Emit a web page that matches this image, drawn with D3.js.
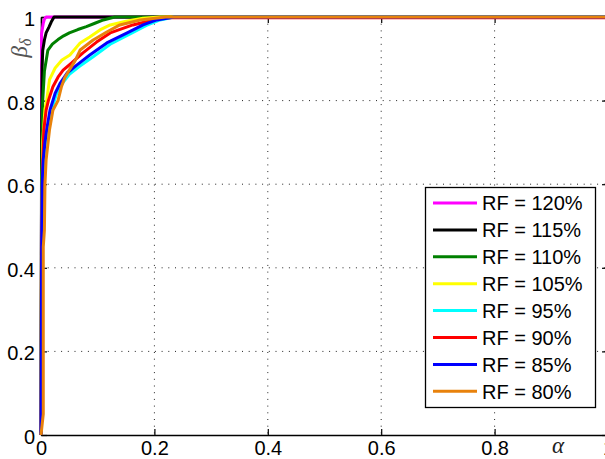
<!DOCTYPE html>
<html>
<head>
<meta charset="utf-8">
<script src="https://cdn.jsdelivr.net/npm/d3@7"></script>
<style>
  body { margin: 0; background: #fff; }
  svg { display: block; }
  .tick text { font-family: "Liberation Sans", Arial, sans-serif; font-size: 20px; fill: #000; }
  .legend text { font-family: "Liberation Sans", Arial, sans-serif; font-size: 20px; fill: #000; }
</style>
</head>
<body>
<div id="chart"></div>
<script>
// ROC curves, (alpha, beta_delta) pairs
const rf120 = [[0,0],[0.001,0.6],[0.001,0.96],[0.004,0.985],[0.006,0.995],[0.009,1],[1,1]];
const rf115 = [[0,0],[0.001,0.7],[0.002,0.88],[0.003,0.92],[0.006,0.945],[0.009,0.962],[0.014,0.976],[0.018,0.988],[0.023,1],[1,1]];
const rf110 = [[0,0],[0.001,0.6],[0.003,0.8],[0.006,0.87],[0.012,0.92],[0.02,0.935],[0.03,0.946],[0.04,0.955],[0.05,0.962],[0.065,0.97],[0.08,0.977],[0.095,0.985],[0.11,0.993],[0.13,1],[1,1]];
const rf105 = [[0,0],[0.001,0.5],[0.003,0.7],[0.007,0.78],[0.01,0.8],[0.015,0.85],[0.025,0.878],[0.037,0.897],[0.051,0.909],[0.069,0.938],[0.086,0.952],[0.104,0.969],[0.122,0.981],[0.15,0.99],[0.18,0.997],[0.21,1],[1,1]];
const rf95 = [[0,0],[0.001,0.4],[0.003,0.6],[0.005,0.66],[0.008,0.7],[0.012,0.73],[0.018,0.775],[0.027,0.815],[0.037,0.84],[0.05,0.863],[0.068,0.882],[0.092,0.905],[0.122,0.935],[0.158,0.96],[0.186,0.98],[0.21,0.993],[0.235,1],[1,1]];
const rf90 = [[0,0],[0.001,0.45],[0.003,0.65],[0.005,0.73],[0.009,0.777],[0.013,0.8],[0.021,0.833],[0.03,0.856],[0.039,0.873],[0.054,0.89],[0.074,0.914],[0.098,0.94],[0.122,0.962],[0.162,0.981],[0.198,0.993],[0.22,0.998],[1,0.998]];
const rf85 = [[0,0],[0.001,0.4],[0.002,0.6],[0.004,0.658],[0.007,0.7],[0.01,0.73],[0.016,0.778],[0.025,0.818],[0.034,0.842],[0.046,0.866],[0.063,0.885],[0.086,0.909],[0.116,0.938],[0.152,0.962],[0.18,0.981],[0.204,0.993],[0.235,1],[1,1]];
const rf80 = [[0,0],[0.004,0.05],[0.004,0.45],[0.006,0.49],[0.007,0.6],[0.009,0.658],[0.015,0.73],[0.021,0.777],[0.03,0.8],[0.036,0.833],[0.042,0.855],[0.05,0.873],[0.06,0.895],[0.069,0.921],[0.092,0.945],[0.116,0.964],[0.139,0.981],[0.175,0.993],[0.22,1],[1,1]];

const labels = ["RF = 120%", "RF = 115%", "RF = 110%", "RF = 105%", "RF = 95%", "RF = 90%", "RF = 85%", "RF = 80%"];
const colors = ["#ff00ff", "#000000", "#008000", "#ffff00", "#00ffff", "#ff0000", "#0000ff", "#e8820c"];
const seriesData = [rf120, rf115, rf110, rf105, rf95, rf90, rf85, rf80];
const ticks = [0, 0.2, 0.4, 0.6, 0.8, 1];

const W = 605, H = 459;
const margin = { top: 17, right: -3, bottom: 24, left: 41 }; // right edge of the axes falls just outside the image
const width = W - margin.left - margin.right;
const height = H - margin.top - margin.bottom;

const svg = d3.select("#chart").append("svg")
    .attr("width", W)
    .attr("height", H);

const g = svg.append("g")
    .attr("transform", `translate(${margin.left},${margin.top})`);

const x = d3.scaleLinear().domain([0, 1]).range([0, width]);
const y = d3.scaleLinear().domain([0, 1]).range([height, 0]);
const fmt = d3.format("~g");

// dotted grid
g.append("g").selectAll("line")
    .data(ticks.slice(1, -1))
    .enter().append("line")
    .attr("x1", d => x(d)).attr("x2", d => x(d))
    .attr("y1", 0).attr("y2", height)
    .attr("stroke", "#222").attr("stroke-width", 1)
    .attr("stroke-dasharray", "1,5.7");
g.append("g").selectAll("line")
    .data(ticks.slice(1, -1))
    .enter().append("line")
    .attr("x1", 0).attr("x2", width)
    .attr("y1", d => y(d)).attr("y2", d => y(d))
    .attr("stroke", "#222").attr("stroke-width", 1)
    .attr("stroke-dasharray", "1,5.7");

// axes, ticks pointing inward
const xAxis = g.append("g")
    .attr("transform", `translate(0,${height})`)
    .call(d3.axisBottom(x).tickValues(ticks).tickFormat(fmt).tickSizeInner(-6).tickSizeOuter(0).tickPadding(6));
const yAxis = g.append("g")
    .call(d3.axisLeft(y).tickValues(ticks).tickFormat(fmt).tickSizeInner(-6).tickSizeOuter(0).tickPadding(6));
g.append("g")
    .call(d3.axisTop(x).tickValues(ticks).tickFormat("").tickSizeInner(-6).tickSizeOuter(0));
g.append("g")
    .attr("transform", `translate(${width},0)`)
    .call(d3.axisRight(y).tickValues(ticks).tickFormat("").tickSizeInner(-6).tickSizeOuter(0));

g.selectAll(".domain").attr("stroke", "#000").attr("stroke-width", 1.6);
g.selectAll(".tick line").attr("stroke", "#000").attr("stroke-width", 1.2);
yAxis.selectAll(".tick text").attr("dy", "0.42em");

// curves
const line = d3.line()
    .x(d => x(d[0]))
    .y(d => y(d[1]));

g.append("g").selectAll("path")
    .data(seriesData)
    .enter().append("path")
    .attr("d", line)
    .attr("fill", "none")
    .attr("stroke", (d, i) => colors[i])
    .attr("stroke-width", 3)
    .attr("stroke-linejoin", "round");

// axis labels
svg.append("text")
    .attr("x", 558).attr("y", 453)
    .attr("text-anchor", "middle")
    .style("font-family", "'Liberation Serif', 'DejaVu Serif', serif")
    .style("font-style", "italic")
    .style("font-size", "23px")
    .attr("fill", "#222")
    .text("α");

const yl = svg.append("text")
    .attr("transform", "translate(27,48) rotate(-90)")
    .attr("text-anchor", "middle")
    .style("font-family", "'Liberation Serif', 'DejaVu Serif', serif")
    .style("font-style", "italic")
    .style("font-size", "23px")
    .attr("fill", "#555");
yl.append("tspan").text("β");
yl.append("tspan").attr("dy", 4).style("font-size", "16px").text("δ");

// legend
const legend = svg.append("g").attr("class", "legend");
legend.append("rect")
    .attr("x", 425.5).attr("y", 187.5)
    .attr("width", 170).attr("height", 220)
    .attr("fill", "#fff").attr("stroke", "#000").attr("stroke-width", 1.3);

const items = legend.selectAll(".item")
    .data(labels)
    .enter().append("g")
    .attr("class", "item")
    .attr("transform", (d, i) => `translate(433,${203 + i * 26.9})`);
items.append("line")
    .attr("x1", 0).attr("x2", 44)
    .attr("stroke", (d, i) => colors[i])
    .attr("stroke-width", 3);
items.append("text")
    .attr("x", 49).attr("dy", "0.36em")
    .text(d => d);
</script>
</body>
</html>
